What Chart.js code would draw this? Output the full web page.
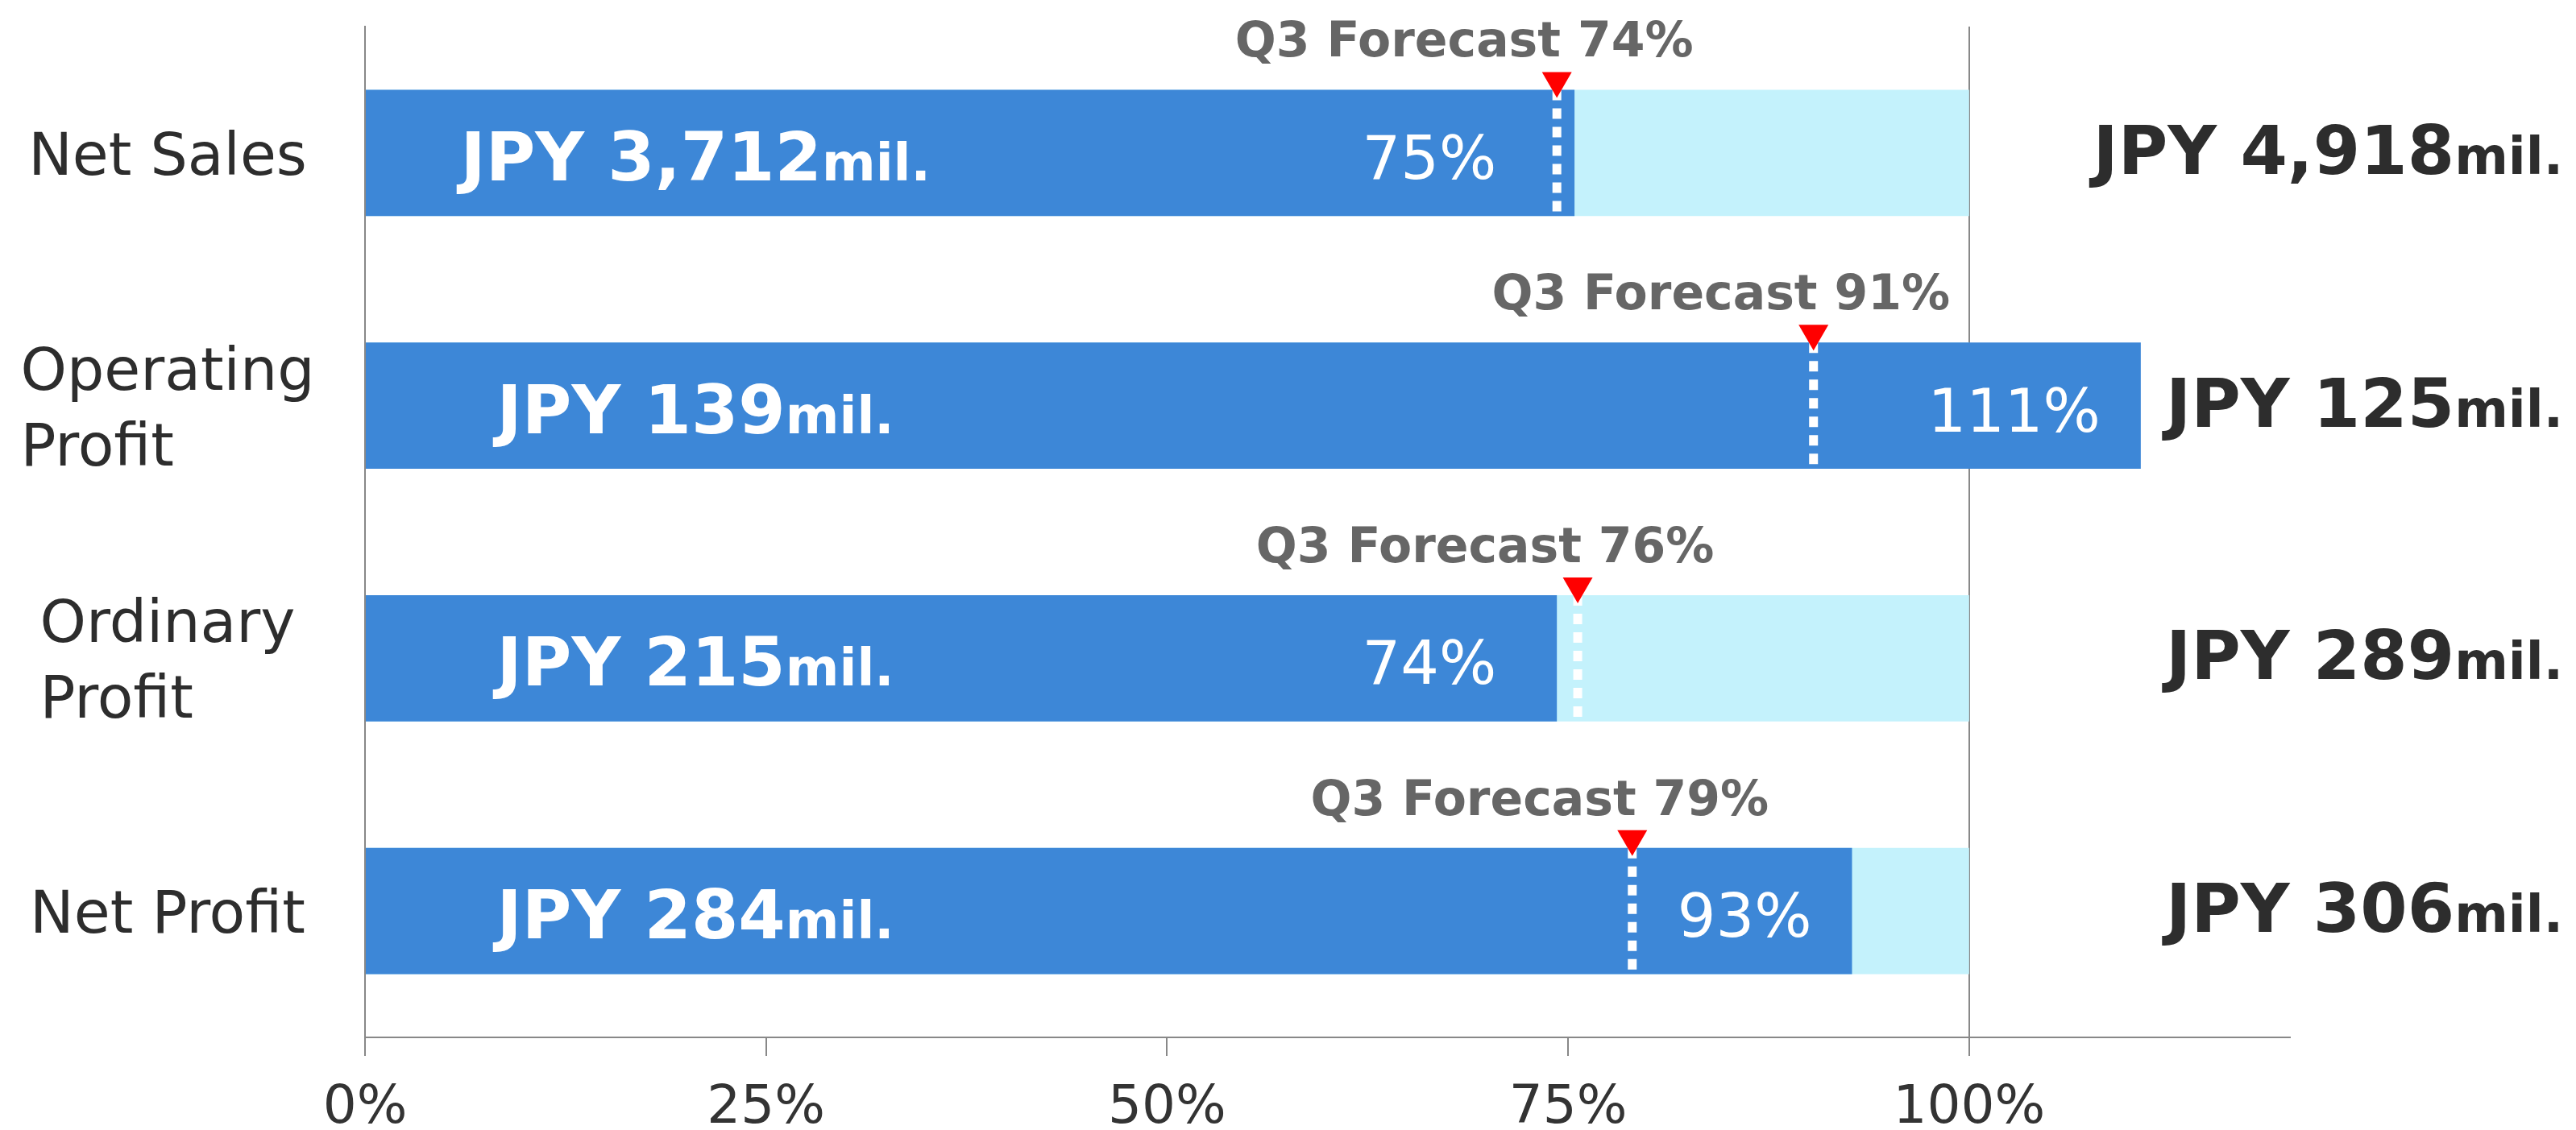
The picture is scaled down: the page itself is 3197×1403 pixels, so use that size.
<!DOCTYPE html>
<html>
<head>
<meta charset="utf-8">
<title>Progress against full-year forecast</title>
<script src="https://cdn.jsdelivr.net/npm/chart.js@4.4.1/dist/chart.umd.min.js"></script>
<style>
  html, body { margin: 0; padding: 0; background: #fff; }
  #wrap { width: 3197px; height: 1403px; position: relative; }
</style>
</head>
<body>
<div id="wrap"><canvas id="progressChart"></canvas></div>
<script>
// values (% of full-year forecast)
const categories = [['Net Sales'], ['Operating', 'Profit'], ['Ordinary', 'Profit'], ['Net Profit']];
const progressPct = [75.4, 110.7, 74.3, 92.7];
const progressLabels = ['75%', '111%', '74%', '93%'];
const targetPct = [100, 100, 100, 100];
const forecastPct = [74.3, 90.3, 75.6, 79.0];
const forecastLabels = ['74%', '91%', '76%', '79%'];
const actualAmounts = ['3,712', '139', '215', '284'];
const targetAmounts = ['4,918', '125', '289', '306'];
const tickValues = [0, 25, 50, 75, 100];

const FONT = "'DejaVu Sans', Verdana, sans-serif";
Chart.defaults.font.family = FONT;

function drawAmount(ctx, amount, x, y, align, color) {
  const big = 'bold 84px ' + FONT;
  const small = 'bold 64px ' + FONT;
  ctx.font = big;
  const w1 = ctx.measureText('JPY ' + amount).width;
  ctx.font = small;
  const w2 = ctx.measureText('mil.').width;
  const left = align === 'center' ? x - (w1 + w2) / 2 : x - (w1 + w2);
  ctx.fillStyle = color;
  ctx.textAlign = 'left';
  ctx.textBaseline = 'alphabetic';
  ctx.font = big;
  ctx.fillText('JPY ' + amount, left, y);
  ctx.font = small;
  ctx.fillText('mil.', left + w1, y);
}

// forecast markers, value labels and category names
const annotations = {
  id: 'annotations',
  afterDatasetsDraw(chart) {
    const ctx = chart.ctx;
    const xs = chart.scales.x;
    const bars = chart.getDatasetMeta(1).data;
    ctx.save();
    bars.forEach((bar, i) => {
      const top = bar.y - bar.height / 2;
      const bottom = bar.y + bar.height / 2;
      const end = bar.x;
      const fx = xs.getPixelForValue(forecastPct[i]);

      // dashed forecast line
      ctx.strokeStyle = '#ffffff';
      ctx.lineWidth = 11;
      ctx.setLineDash([13, 10]);
      ctx.beginPath();
      ctx.moveTo(fx, top);
      ctx.lineTo(fx, bottom - 3);
      ctx.stroke();
      ctx.setLineDash([]);

      // red marker
      ctx.fillStyle = '#ff0000';
      ctx.beginPath();
      ctx.moveTo(fx - 18.5, top - 22);
      ctx.lineTo(fx + 18.5, top - 22);
      ctx.lineTo(fx, top + 10);
      ctx.closePath();
      ctx.fill();

      // caption
      ctx.font = 'bold 60px ' + FONT;
      ctx.fillStyle = '#666666';
      ctx.textAlign = 'center';
      ctx.textBaseline = 'alphabetic';
      ctx.fillText('Q3 Forecast ' + forecastLabels[i], fx - 115, top - 41);

      // progress %
      const near = Math.abs(end - fx) < 60;
      const right = near ? Math.min(end, fx) - 75 : end - 50;
      ctx.font = '75px ' + FONT;
      ctx.fillStyle = '#ffffff';
      ctx.textAlign = 'right';
      ctx.fillText(progressLabels[i], right, bar.y + 32);

      // amounts
      drawAmount(ctx, actualAmounts[i], xs.getPixelForValue(20.6), bar.y + 34, 'center', '#ffffff');
      drawAmount(ctx, targetAmounts[i], chart.width - 16, bar.y + 26, 'right', '#2d2d2d');
    });

    // category names: centred block, lines left aligned
    const ys = chart.scales.y;
    ctx.font = '73px ' + FONT;
    ctx.fillStyle = '#2d2d2d';
    ctx.textAlign = 'left';
    categories.forEach((lines, i) => {
      const cy = ys.getPixelForValue(i);
      const w = Math.max(...lines.map(l => ctx.measureText(l).width));
      const left = 208 - w / 2;
      lines.forEach((l, k) => {
        ctx.fillText(l, left, cy + 27 - (lines.length - 1) * 47 + k * 94);
      });
    });
    ctx.restore();
  }
};

new Chart(document.getElementById('progressChart'), {
  type: 'bar',
  data: {
    labels: categories,
    datasets: [
      { label: 'Full-year forecast', data: targetPct, backgroundColor: '#c4f2fc',
        order: 2, grouped: false, barPercentage: 0.5, categoryPercentage: 1 },
      { label: 'Progress', data: progressPct, backgroundColor: '#3d87d7',
        order: 1, grouped: false, barPercentage: 0.5, categoryPercentage: 1 }
    ]
  },
  options: {
    indexAxis: 'y',
    responsive: true,
    maintainAspectRatio: false,
    devicePixelRatio: 1,
    animation: false,
    layout: { padding: { top: 33, right: 355, bottom: 0, left: 0 } },
    plugins: { legend: { display: false }, tooltip: { enabled: false } },
    scales: {
      x: {
        min: 0,
        max: 120,
        afterBuildTicks: s => { s.ticks = tickValues.map(v => ({ value: v })); },
        afterFit: s => { s.height = 115; },
        grid: {
          color: c => (c.tick && c.tick.value === 100 ? '#888888' : 'rgba(0,0,0,0)'),
          tickColor: '#888888',
          tickLength: 23,
          lineWidth: 2
        },
        border: { color: '#888888', width: 2 },
        ticks: {
          callback: v => v + '%',
          color: '#333333',
          font: { size: 66 },
          padding: 26,
          maxRotation: 0,
          autoSkip: false
        }
      },
      y: {
        afterFit: s => { s.width = 453; },
        grid: { display: false },
        border: { color: '#888888', width: 2 },
        ticks: { display: false }
      }
    }
  },
  plugins: [annotations]
});
</script>
</body>
</html>
